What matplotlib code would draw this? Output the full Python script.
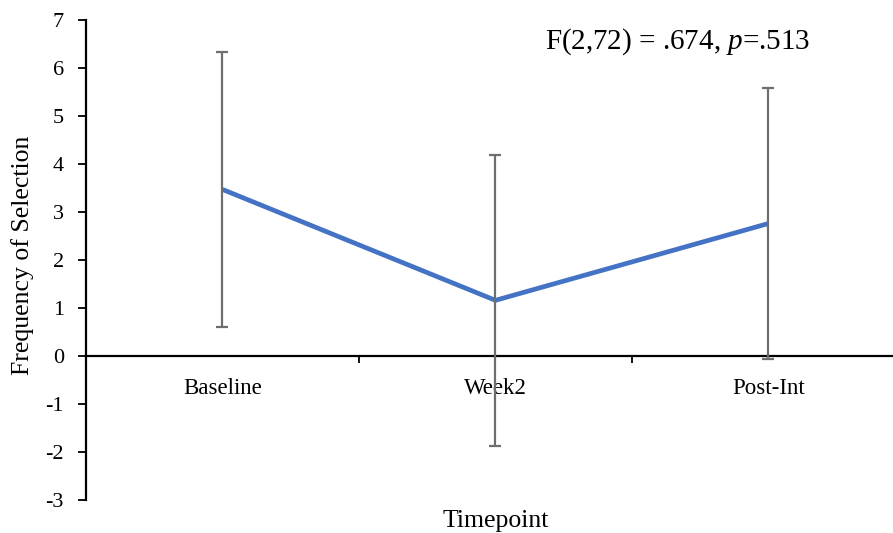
import matplotlib
matplotlib.use("Agg")
import matplotlib.pyplot as plt
from matplotlib.ticker import FixedLocator, NullFormatter

plt.rcParams["font.family"] = ["Liberation Serif", "DejaVu Serif"]
plt.rcParams["mathtext.fontset"] = "custom"
plt.rcParams["mathtext.rm"] = "Liberation Serif"
plt.rcParams["mathtext.it"] = "Liberation Serif:italic"

timepoints = ["Baseline", "Week2", "Post-Int"]
mean_freq = [3.47, 1.16, 2.76]
sd_freq = [2.87, 3.03, 2.83]
y_ticks = [-3, -2, -1, 0, 1, 2, 3, 4, 5, 6, 7]

fig = plt.figure(figsize=(8.93, 5.33), dpi=100)
ax = fig.add_axes([0.0963, 0.0619, 0.917, 0.9006])

x = list(range(len(timepoints)))
ax.plot(x, mean_freq, color="#4472C4", linewidth=3.4, solid_capstyle="butt", zorder=2)
ax.errorbar(x, mean_freq, yerr=sd_freq, fmt="none", ecolor="#6E6E6E",
            elinewidth=1.6, capsize=4.5, capthick=1.6, zorder=3)

ax.set_xlim(-0.5, len(timepoints) - 0.5)
ax.set_ylim(-3, 7)
ax.set_yticks(y_ticks)
ax.set_yticklabels([str(v) for v in y_ticks])

ax.spines["top"].set_visible(False)
ax.spines["right"].set_visible(False)
ax.spines["bottom"].set_position(("data", 0))
ax.spines["bottom"].set_linewidth(1.6)
ax.spines["left"].set_linewidth(1.6)

ax.set_xticks(x)
ax.set_xticklabels(timepoints)
ax.tick_params(axis="x", which="major", length=0, pad=15.5, labelsize=16.5)
ax.xaxis.set_minor_locator(FixedLocator([0.5, 1.5]))
ax.xaxis.set_minor_formatter(NullFormatter())
ax.tick_params(axis="x", which="minor", direction="out", length=5, width=1.3)
ax.tick_params(axis="y", direction="out", length=6, width=1.3, labelsize=16, pad=10)

fig.text(23 / 893, 0.5216, "Frequency of Selection", rotation=90,
         ha="center", va="center", fontsize=18.5)
fig.text(0.555, 0.012, "Timepoint", ha="center", va="baseline", fontsize=18.5)

fig.text(0.759, 0.921, r"F(2,72) = .674, $\mathit{p}$=.513",
         ha="center", va="center", fontsize=21)

fig.savefig("out.png", dpi=100)
